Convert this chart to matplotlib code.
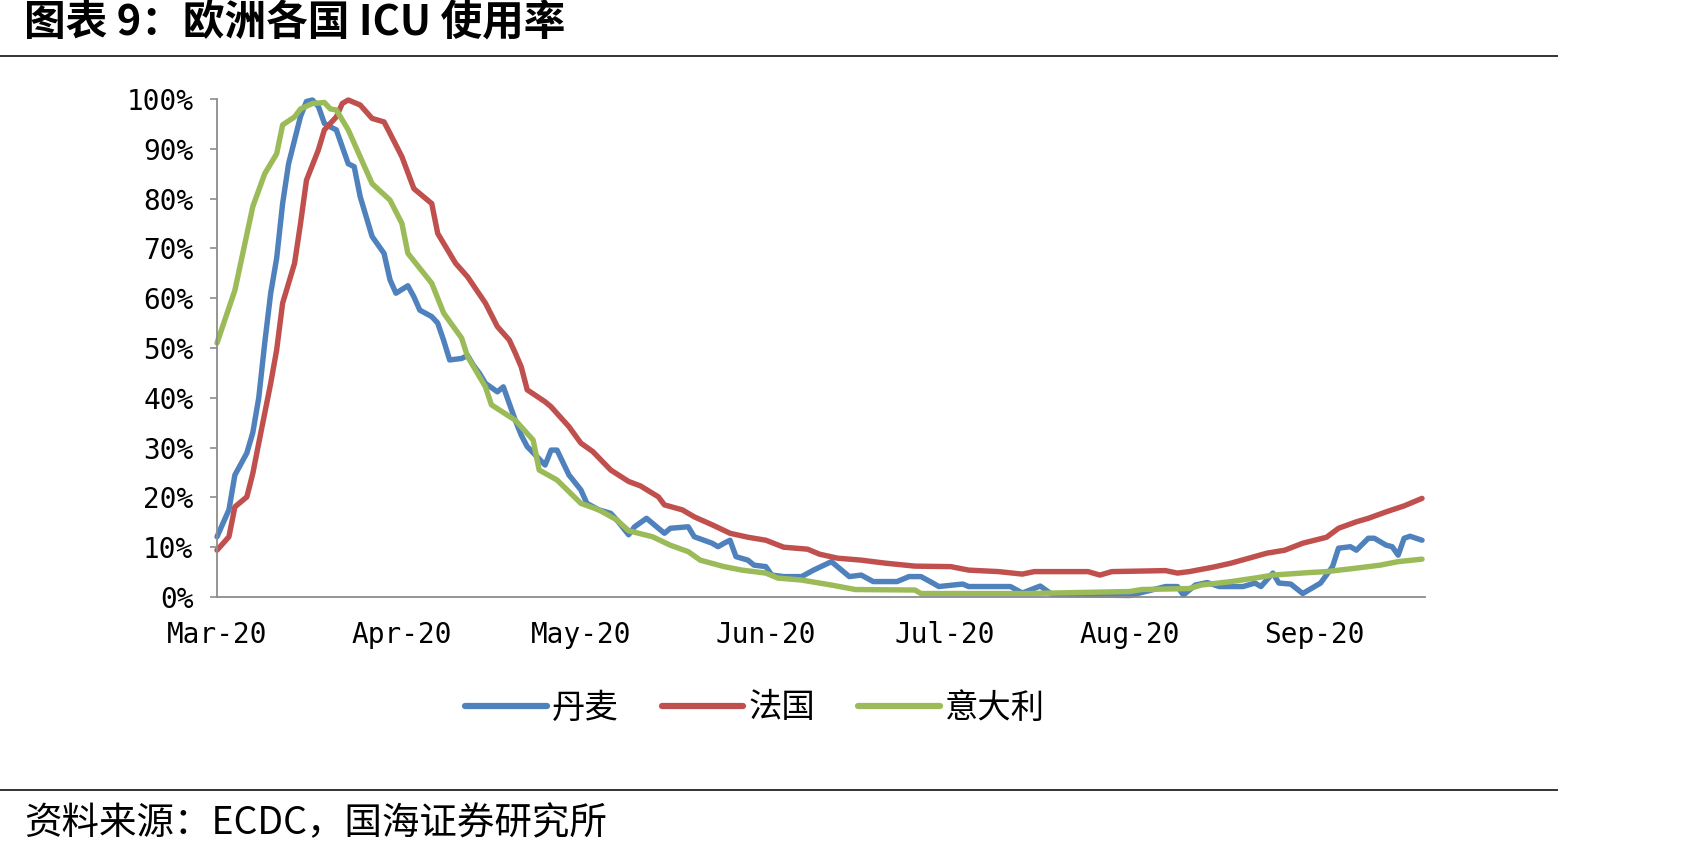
import numpy as np
import pandas as pd
import matplotlib
matplotlib.use("Agg")
import matplotlib.pyplot as plt
from matplotlib.lines import Line2D
from matplotlib.ticker import FuncFormatter

plt.rcParams['font.family'] = ['Noto Sans CJK SC', 'DejaVu Sans']

# ── data: ICU use, % of each country's own peak; days counted from 2020-03-01 ──
START = pd.Timestamp("2020-03-01")

dk_days = [0, 2, 3, 5, 6, 7, 8, 9, 10, 11, 12, 14, 15, 16, 17, 18, 19, 20, 22, 23,
           24, 26, 28, 29, 30, 32, 33, 34, 36, 37, 38, 39, 41, 42, 43, 44, 45, 47, 48, 50,
           51, 52, 55, 56, 57, 59, 61, 62, 64, 66, 67, 69, 70, 72, 73, 75, 76, 79, 80, 83,
           84, 85, 86, 87, 89, 90, 92, 93, 95, 98, 100, 103, 104, 106, 108, 110, 114, 116, 118, 120,
           121, 125, 126, 133, 135, 138, 140, 153, 159, 161, 162, 164, 166, 168, 172, 174, 175, 177, 178, 180,
           182, 184, 185, 187, 188, 190, 191, 193, 194, 196, 197, 198, 199, 200, 202]
dk_vals = [12.1, 17.5, 24.5, 28.9, 33.0, 40.0, 51.0, 61.0, 68.0, 79.0, 87.0, 96.5, 99.5, 99.8, 98.5, 95.1, 94.4, 93.8, 87.0, 86.4,
           80.4, 72.4, 69.0, 63.7, 61.0, 62.5, 60.3, 57.6, 56.3, 55.0, 51.5, 47.6, 47.9, 48.5, 46.5, 44.9, 42.9, 41.2, 42.2, 35.5,
           32.5, 30.2, 26.5, 29.5, 29.5, 24.5, 21.5, 18.8, 17.5, 16.8, 15.5, 12.5, 14.1, 15.8, 14.8, 12.8, 13.8, 14.1, 12.1, 10.8,
           10.1, 10.8, 11.4, 8.1, 7.4, 6.4, 6.1, 4.4, 4.1, 4.1, 5.4, 7.1, 6.1, 4.1, 4.4, 3.1, 3.1, 4.1, 4.1, 2.8,
           2.1, 2.6, 2.1, 2.1, 0.8, 2.2, 0.5, 0.3, 2.1, 2.1, 0.4, 2.4, 2.9, 2.1, 2.1, 2.8, 2.1, 4.8, 2.8, 2.6,
           0.7, 2.1, 2.8, 6.1, 9.8, 10.1, 9.4, 11.8, 11.8, 10.4, 10.1, 8.4, 11.8, 12.2, 11.4]

fr_days = [0, 2, 3, 5, 6, 7, 8, 9, 10, 11, 13, 14, 15, 17, 18, 20, 21, 22, 24, 26,
           28, 29, 31, 33, 34, 36, 37, 40, 42, 45, 47, 49, 50, 51, 52, 55, 56, 59, 61, 63,
           66, 69, 71, 74, 75, 78, 80, 83, 86, 89, 92, 95, 99, 101, 104, 108, 112, 117, 123, 126,
           131, 135, 137, 146, 148, 150, 159, 161, 163, 167, 170, 173, 176, 179, 182, 184, 186, 188, 191, 193,
           196, 199, 202]
fr_vals = [9.4, 12.1, 18.1, 20.1, 24.8, 30.9, 36.9, 42.9, 49.6, 59.0, 67.0, 75.0, 83.7, 89.8, 93.8, 96.4, 99.1, 99.8, 98.8, 96.1,
           95.4, 93.1, 88.4, 82.0, 81.0, 79.0, 73.0, 67.0, 64.3, 59.0, 54.3, 51.6, 49.0, 46.2, 41.6, 39.2, 38.2, 34.2, 30.9, 29.2,
           25.5, 23.2, 22.3, 20.1, 18.5, 17.5, 16.1, 14.5, 12.8, 12.0, 11.4, 10.0, 9.6, 8.6, 7.8, 7.4, 6.8, 6.2, 6.1, 5.4,
           5.1, 4.6, 5.1, 5.1, 4.4, 5.1, 5.3, 4.8, 5.1, 6.0, 6.8, 7.8, 8.8, 9.4, 10.8, 11.4, 12.0, 13.8, 15.1, 15.8,
           17.1, 18.3, 19.8]

it_days = [0, 3, 6, 8, 10, 11, 13, 14, 16, 18, 19, 20, 22, 24, 26, 29, 31, 32, 34, 36,
           38, 41, 42, 45, 46, 50, 53, 54, 57, 61, 64, 67, 69, 73, 76, 79, 81, 85, 88, 92,
           94, 98, 103, 107, 117, 118, 136, 153, 155, 163, 165, 170, 174, 177, 183, 186, 191, 195, 198, 202]
it_vals = [51.0, 61.6, 78.4, 85.0, 89.0, 94.8, 96.4, 98.0, 99.1, 99.3, 98.0, 97.8, 93.8, 88.4, 83.0, 79.7, 75.0, 69.0, 66.0, 63.0,
           57.0, 52.0, 48.3, 42.2, 38.6, 35.5, 31.5, 25.5, 23.5, 18.8, 17.5, 15.5, 13.3, 12.1, 10.4, 9.1, 7.4, 6.1, 5.4, 4.8,
           3.8, 3.4, 2.4, 1.5, 1.4, 0.7, 0.7, 1.1, 1.5, 1.7, 2.4, 3.1, 3.8, 4.4, 4.9, 5.1, 5.8, 6.4, 7.1, 7.6]

series_names = ["丹麦", "法国", "意大利"]
series_colors = ["#4F81BD", "#C0504D", "#9BBB59"]
month_labels = ["Mar-20", "Apr-20", "May-20", "Jun-20", "Jul-20", "Aug-20", "Sep-20"]
y_ticks = [0, 10, 20, 30, 40, 50, 60, 70, 80, 90, 100]

# ── figure ────────────────────────────────────────────────────────────────────
W, H = 1690, 857
fig = plt.figure(figsize=(W / 100, H / 100), dpi=100, facecolor="white")
ax = fig.add_axes([217 / W, 1 - 597 / H, (1425 - 217) / W, (597 - 99) / H])

def to_dates(days):
    return START + pd.to_timedelta(days, unit="D")

for days, vals, name, col in zip([dk_days, fr_days, it_days], [dk_vals, fr_vals, it_vals],
                                 series_names, series_colors):
    ax.plot(to_dates(days), vals, color=col, lw=3.9, label=name, clip_on=False,
            solid_joinstyle="round", solid_capstyle="round")

ax.set_ylim(0, 100)
ax.set_yticks(y_ticks)
ax.yaxis.set_major_formatter(FuncFormatter(lambda v, p: f"{v:.0f}%"))
ax.set_xlim(START, START + pd.Timedelta(days=202.5))
ax.set_xticks(pd.date_range(START, periods=len(month_labels), freq="MS"))
ax.set_xticklabels(month_labels)

for s in ["top", "right"]:
    ax.spines[s].set_visible(False)
for s in ["left", "bottom"]:
    ax.spines[s].set_color("#8C8C8C")
    ax.spines[s].set_linewidth(1.3)

ax.tick_params(axis="y", direction="out", length=5, width=1.2, color="#8C8C8C", pad=12)
ax.tick_params(axis="x", length=0, pad=17)
for lab in ax.get_yticklabels() + ax.get_xticklabels():
    lab.set_fontfamily("DejaVu Sans Mono")
    lab.set_fontsize(20)
    lab.set_color("black")

fig.legend(loc="center", bbox_to_anchor=(755 / W, 1 - 708 / H), ncol=3, frameon=False,
           fontsize=24, handlelength=2.45, handletextpad=0.15, columnspacing=1.3)
for ln in fig.legends[0].get_lines():
    ln.set_linewidth(4.5)

# title, rules, source
fig.text(24 / W, 1 - 24 / H, "图表 9：欧洲各国 ICU 使用率", fontsize=30, fontweight="bold",
         ha="left", va="center")
fig.add_artist(Line2D([0, 1557 / W], [1 - 56 / H] * 2, color="#333333", lw=1.4))
fig.add_artist(Line2D([0, 1557 / W], [1 - 790 / H] * 2, color="#333333", lw=1.4))
fig.text(24 / W, 1 - 824 / H, "资料来源：ECDC，国海证券研究所", fontsize=27,
         ha="left", va="center")

fig.savefig("out.png", dpi=100, facecolor="white")
